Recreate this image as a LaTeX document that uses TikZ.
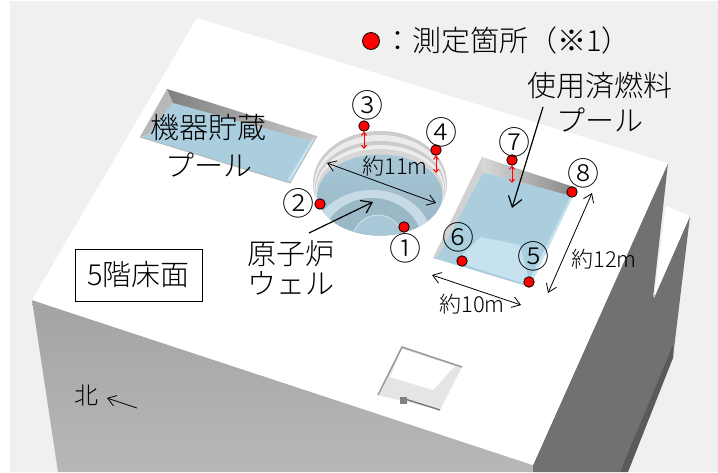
\documentclass[tikz,border=0pt]{standalone}
\usepackage{fontspec}
\usepackage{tikz}
\usetikzlibrary{arrows.meta}
\setmainfont{Noto Sans CJK JP Light}
\definecolor{backgray}{HTML}{F0F0F0}
\definecolor{sidedark}{HTML}{717171}
\definecolor{sidedarker}{HTML}{5A5A5A}
\definecolor{wellwater}{HTML}{A8C8D8}
\definecolor{poolwater}{HTML}{AACEDE}
\definecolor{poolshelf}{HTML}{C6E2EE}
\tikzset{
  bigtext/.style={inner sep=0pt, font=\fontsize{29}{29}\selectfont},
  midtext/.style={inner sep=0pt, font=\fontsize{22}{22}\selectfont},
  numtext/.style={inner sep=0pt, font=\fontsize{32}{32}\selectfont},
  reddot/.style={circle, draw=black, fill=red, line width=0.8pt, inner sep=0pt, minimum size=10.5pt},
  redgap/.style={<->, red, line width=1pt, >={Straight Barb[length=3pt,width=5pt]}},
  thinline/.style={<->, line width=0.8pt, >={Straight Barb[length=8pt,width=11pt]}},
  thickline/.style={->, line width=1.2pt, >={Straight Barb[length=10pt,width=14pt]}}
}
\begin{document}
\begin{tikzpicture}[x=1pt,y=-1pt]
\useasboundingbox (0,0) rectangle (718,472);
\fill [white] (0,0) rectangle (718,472);
\fill [backgray] (10,1) rectangle (718,472);
\shade [top color=black!36, bottom color=black!28] (32,300) -- (533,465) -- (533,472) -- (58,472) -- cycle;
\fill [sidedark] (668,163) -- (653,298) -- (690,216) -- (673,357) -- (620,472) -- (533,472) -- (533,465) -- cycle;
\fill [sidedarker] (673,345) -- (673,358) -- (628,472) -- (620,472) -- cycle;
\fill [white] (197,18) -- (668,163) -- (533,465) -- (32,300) -- cycle;
\fill [white] (666,206) -- (690,216) -- (654,298) -- cycle;

\fill [poolwater] (173,103) -- (312,141) -- (290,183) -- (140,137) -- (147,135) -- cycle;
\fill [black!28] (167,89) -- (173,103) -- (147,135) -- (140,137) -- cycle;
\shade [left color=black!50, right color=black!22] (167,89) -- (317,136) -- (311,141) -- (173,103) -- cycle;
\fill [poolshelf] (317,136) -- (311,141) -- (288,179) -- (290,183) -- cycle;
\draw [black!30, line width=0.8pt] (140,137) -- (290,183) -- (317,136);

\fill [black!20] (380,183) ellipse [x radius=67, y radius=52];
\fill [black!8] (380,185) ellipse [x radius=66, y radius=50];
\fill [black!20] (380,188) ellipse [x radius=65, y radius=47];
\fill [black!7] (380,190) ellipse [x radius=64.5, y radius=45];
\fill [black!16] (380,192) ellipse [x radius=63.5, y radius=43];
\begin{scope}
\clip (380,195) ellipse [x radius=62.5, y radius=40.5];
\shade [top color=wellwater, bottom color=wellwater!90!black] (310,150) rectangle (450,240);
\fill [white!35!wellwater] (372,240) ellipse [x radius=60, y radius=50];
\fill [wellwater!92!black] (372,248) ellipse [x radius=52, y radius=50];
\draw [white!40!wellwater, fill=wellwater, line width=1pt] (378,245) ellipse [x radius=27, y radius=30];
\end{scope}

\fill [poolwater] (483,172) -- (571,196) -- (530,287) -- (433,258) -- (438,256) -- cycle;
\fill [poolshelf] (481,237) -- (520,245) -- (530,285) -- (455,262) -- cycle;
\fill [black!18] (482,157) -- (483,172) -- (438,256) -- (433,258) -- cycle;
\shade [left color=black!15, right color=black!48] (482,157) -- (577,188) -- (571,196) -- (483,172) -- cycle;
\fill [poolshelf] (577,188) -- (571,196) -- (528,283) -- (530,287) -- cycle;

\fill [black!10] (402,347) -- (462,367) -- (440,410) -- (378,395) -- cycle;
\fill [white] (402,349) -- (455,366) -- (433,390) -- (390,377) -- cycle;
\draw [black!40, line width=1.5pt] (378,395) -- (402,347) -- (462,367);
\draw [black!55, line width=1.3pt] (402,398) -- (440,410);
\fill [black!50] (400,397) rectangle (407,404);

\node (legenddot) [reddot, minimum size=17pt] at (371,41) {};
\node (legend) [bigtext, anchor=west] at (383,40) {：測定箇所（※1）};
\node (rackpoola) [bigtext] at (208,128) {機器貯蔵};
\node (rackpoolb) [bigtext] at (209,165) {プール};
\node (wella) [bigtext] at (291,254) {原子炉};
\node (wellb) [bigtext] at (291,283) {ウェル};
\node (fuelpoola) [bigtext] at (600,86) {使用済燃料};
\node (fuelpoolb) [bigtext] at (600,120) {プール};
\node (floorlabel) [bigtext, draw, line width=0.8pt, inner xsep=8pt, minimum width=127pt, minimum height=52pt] at (138.5,275) {5階床面};
\node (welldist) [midtext] at (395,166) {約11m};
\node (longdist) [midtext] at (604,259) {約12m};
\node (widedist) [midtext] at (472,304) {約10m};
\node (north) [inner sep=0pt, font=\fontsize{24}{24}\selectfont] at (86,396) {北};

\node (dota) [reddot] at (404,227) {};
\node (dotb) [reddot] at (320,204) {};
\node (dotc) [reddot] at (364,126) {};
\node (dotd) [reddot] at (436,150) {};
\node (dote) [reddot] at (529,282) {};
\node (dotf) [reddot] at (462,261) {};
\node (dotg) [reddot] at (512,160) {};
\node (doth) [reddot] at (572,192) {};
\node (numa) [numtext] at (405,248) {①};
\node (numb) [numtext] at (298,203) {②};
\node (numc) [numtext] at (367,105) {③};
\node (numd) [numtext] at (441,132) {④};
\node (nume) [numtext] at (533,256) {⑤};
\node (numf) [numtext] at (458,237) {⑥};
\node (numg) [numtext] at (514,142) {⑦};
\node (numh) [numtext] at (583,173) {⑧};

\coordinate (gapc) at (364,149);
\coordinate (gapd) at (436,173);
\coordinate (gapg) at (512,183);
\draw [redgap] (dotc) -- (gapc);
\draw [redgap] (dotd) -- (gapd);
\draw [redgap] (dotg) -- (gapg);

\coordinate (wellleft) at (327,163);
\coordinate (wellright) at (436,203);
\coordinate (wellfrom) at (309,233);
\coordinate (wellto) at (373,202);
\coordinate (fuelfrom) at (543,107);
\coordinate (fuelto) at (512,208);
\coordinate (widea) at (432,275);
\coordinate (wideb) at (521,305);
\coordinate (longa) at (592,193);
\coordinate (longb) at (548,293);
\coordinate (northfrom) at (137,408);
\coordinate (northto) at (107,398);
\draw [thinline] (wellleft) -- (wellright);
\draw [thinline] (widea) -- (wideb);
\draw [thinline] (longa) -- (longb);
\draw [thickline] (wellfrom) -- (wellto);
\draw [thickline] (fuelfrom) -- (fuelto);
\draw [thinline, <-] (northto) -- (northfrom);
\end{tikzpicture}
\end{document}
